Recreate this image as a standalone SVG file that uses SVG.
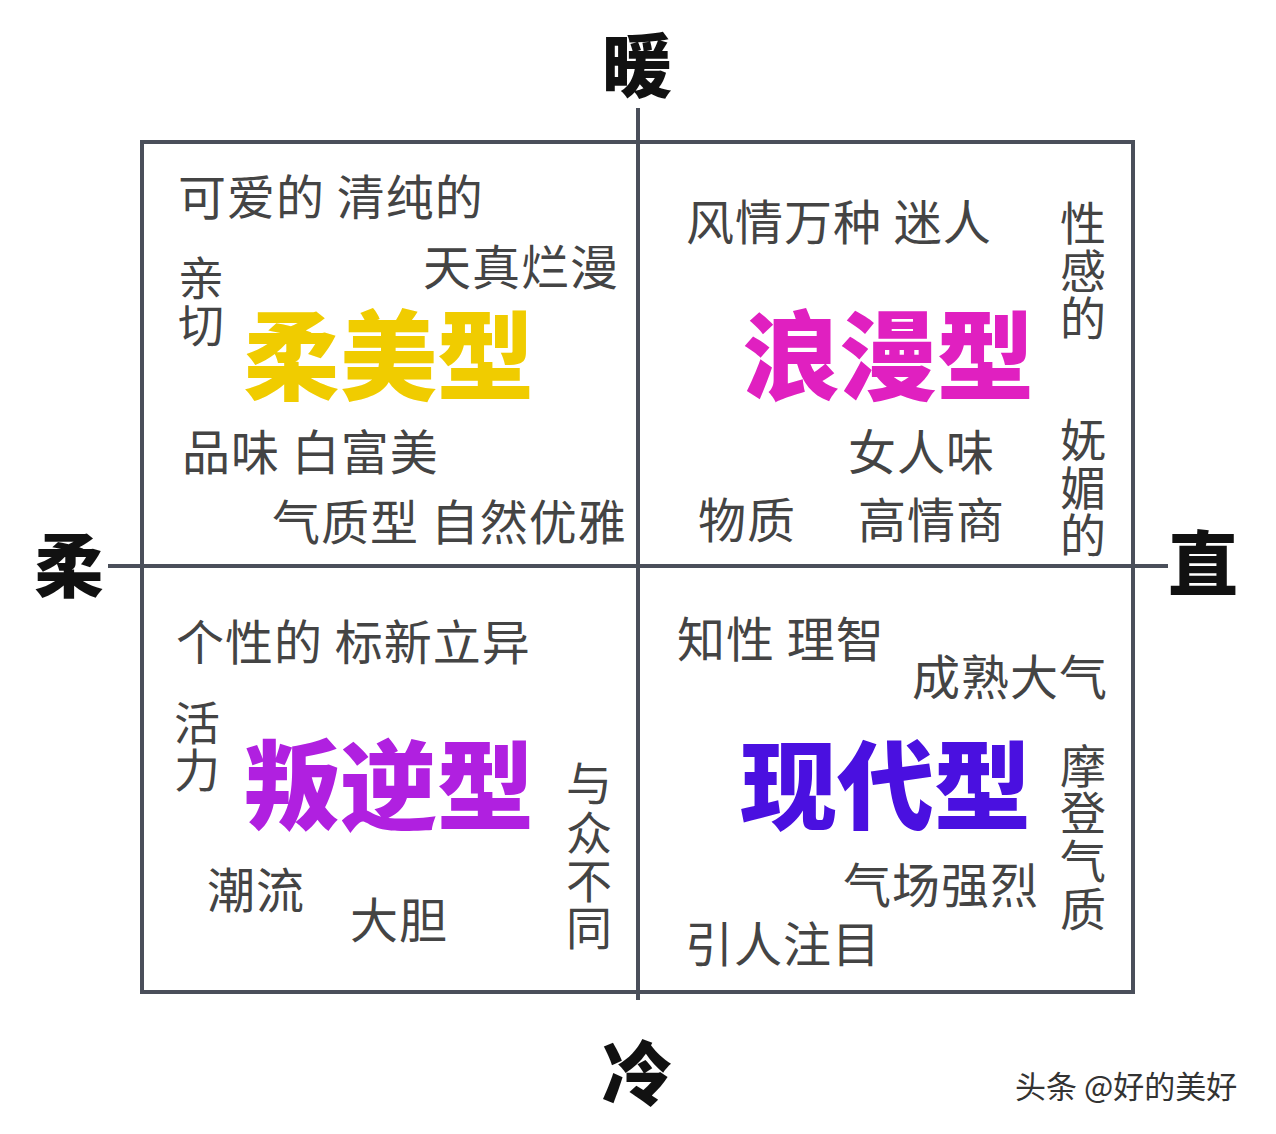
<svg xmlns="http://www.w3.org/2000/svg" width="1276" height="1134" viewBox="0 0 1276 1134">
<style>
.t{font-family:"Noto Sans CJK SC",sans-serif;font-size:48px;fill:#444;letter-spacing:1px}
.v{font-family:"Noto Sans CJK SC",sans-serif;font-size:46px;fill:#444}
.big{font-family:"Noto Sans CJK SC",sans-serif;font-size:97px;font-weight:900}
.ax{font-family:"Noto Sans CJK SC",sans-serif;font-size:70px;font-weight:900;fill:#111}
</style>
<rect width="1276" height="1134" fill="#fff"/>
<g id="connectors" stroke="#4a4f5a" stroke-width="4" fill="none">
<rect x="142" y="142" width="991" height="850"/>
<line x1="638" y1="108" x2="638" y2="1000"/>
<line x1="108" y1="566" x2="1168" y2="566"/>
</g>
<g id="axes">
<text class="ax" x="602" y="92">暖</text>
<text class="ax" x="602" y="1100">冷</text>
<text class="ax" x="34" y="592">柔</text>
<text class="ax" x="1168" y="590">直</text>
</g>
<g id="q1">
<text class="t" x="178" y="215">可爱的 清纯的</text>
<text class="t" x="423" y="285">天真烂漫</text>
<text class="v" x="178" y="295">亲</text><text class="v" x="178" y="342">切</text>
<text class="big" x="243" y="392" fill="#f0cc00">柔美型</text>
<text class="t" x="182" y="470">品味 白富美</text>
<text class="t" x="272" y="540">气质型 自然优雅</text>
</g>
<g id="q2">
<text class="t" x="686" y="240">风情万种 迷人</text>
<text class="v" x="1060" y="240">性</text><text class="v" x="1060" y="288">感</text><text class="v" x="1060" y="335">的</text>
<text class="big" x="743" y="392" fill="#e020c0">浪漫型</text>
<text class="t" x="848" y="470">女人味</text>
<text class="v" x="1060" y="457">妩</text><text class="v" x="1060" y="505">媚</text><text class="v" x="1060" y="552">的</text>
<text class="t" x="698" y="538">物质</text>
<text class="t" x="858" y="538">高情商</text>
</g>
<g id="q3">
<text class="t" x="176" y="660">个性的 标新立异</text>
<text class="v" x="174" y="740">活</text><text class="v" x="174" y="787">力</text>
<text class="big" x="243" y="822" fill="#b020e0">叛逆型</text>
<text class="v" x="566" y="800">与</text><text class="v" x="566" y="850">众</text><text class="v" x="566" y="898">不</text><text class="v" x="566" y="945">同</text>
<text class="t" x="207" y="908">潮流</text>
<text class="t" x="350" y="938">大胆</text>
</g>
<g id="q4">
<text class="t" x="677" y="657">知性 理智</text>
<text class="t" x="912" y="695">成熟大气</text>
<text class="big" x="740" y="822" fill="#4a10e0">现代型</text>
<text class="v" x="1060" y="783">摩</text><text class="v" x="1060" y="830">登</text><text class="v" x="1060" y="878">气</text><text class="v" x="1060" y="926">质</text>
<text class="t" x="843" y="903">气场强烈</text>
<text class="t" x="685" y="962">引人注目</text>
</g>
<text x="1015" y="1098" font-family="Noto Sans CJK SC,sans-serif" font-size="31" fill="#333">头条 @好的美好</text>
</svg>
